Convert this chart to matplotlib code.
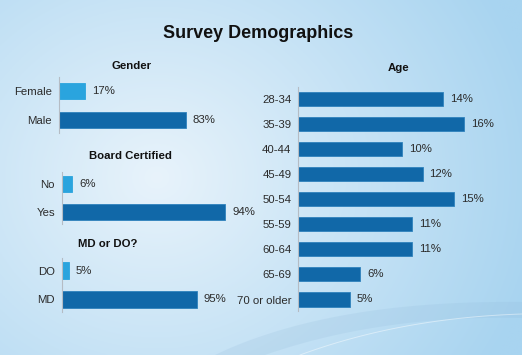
import numpy as np
import matplotlib
matplotlib.use("Agg")
import matplotlib.pyplot as plt
from matplotlib.colors import to_rgb

# data
gender_labels = ["Female", "Male"]
gender_values = [17, 83]
board_labels = ["No", "Yes"]
board_values = [6, 94]
degree_labels = ["DO", "MD"]
degree_values = [5, 95]
age_labels = ["28-34", "35-39", "40-44", "45-49", "50-54",
              "55-59", "60-64", "65-69", "70 or older"]
age_values = [14, 16, 10, 12, 15, 11, 11, 6, 5]

W, H = 522, 355
LIGHT = "#2aa4de"
DARK = "#1168a8"
TXT = "#2b2b2b"

plt.rcParams['font.family'] = ['Liberation Sans', 'DejaVu Sans']

fig = plt.figure(figsize=(W / 100, H / 100), dpi=100)

# background gradient + swoosh (pixel coords)
bg = fig.add_axes([0, 0, 1, 1])
yy, xx = np.mgrid[0:1:200j, 0:1:300j]
t = np.clip(np.hypot((xx - 0.3) / 0.75, (yy - 0.5) / 1.0), 0, 1)
c0 = np.array(to_rgb("#e8f3fb"))
c1 = np.array(to_rgb("#a8d4f0"))
img = c0 + (c1 - c0) * t[..., None]
bg.imshow(img, extent=[0, W, H, 0], aspect="auto", zorder=0)


def bez(p0, p1, p2, n=60):
    s = np.linspace(0, 1, n)[:, None]
    return (1 - s) ** 2 * np.array(p0) + 2 * (1 - s) * s * np.array(p1) + s ** 2 * np.array(p2)


up = bez((215, 355), (330, 300), (522, 302))
lo = bez((265, 355), (380, 315), (522, 318))
band = np.vstack([up, lo[::-1]])
bg.fill(band[:, 0], band[:, 1], color="#8fb8d8", alpha=0.18, lw=0, zorder=1)
wl = bez((300, 355), (400, 318), (522, 314))
bg.plot(wl[:, 0], wl[:, 1], color="white", alpha=0.45, lw=0.7, zorder=1)
bg.set_xlim(0, W)
bg.set_ylim(H, 0)
bg.axis("off")


def panel(labels, values, colors, left, top, bottom, c0, pitch, scale, xmax, bh):
    width = xmax * scale
    ax = fig.add_axes([left / W, 1 - bottom / H, width / W, (bottom - top) / H])
    ax.patch.set_alpha(0)
    y = np.arange(len(labels))
    bars = ax.barh(y, values, height=bh, color=colors,
                   edgecolor=[c if c == LIGHT else "#2f82bd" for c in colors], linewidth=0.6)
    ax.bar_label(bars, labels=[f"{v}%" for v in values], padding=5,
                 fontsize=8.2, color=TXT, clip_on=False)
    ax.set_ylim((bottom - c0) / pitch, (top - c0) / pitch)
    ax.set_xlim(0, xmax)
    ax.set_yticks(y, labels)
    ax.set_xticks([])
    ax.tick_params(axis="y", length=0, pad=5, labelsize=8.2, labelcolor=TXT)
    for s in ["top", "right", "bottom"]:
        ax.spines[s].set_visible(False)
    ax.spines["left"].set_color("#b5bcc4")
    ax.spines["left"].set_linewidth(0.8)
    return ax


panel(gender_labels, gender_values, [LIGHT, DARK], 59, 77, 133, 91, 29, 1.53, 100, 0.57)
panel(board_labels, board_values, [LIGHT, DARK], 62, 172, 224, 184, 28.2, 1.735, 100, 0.57)
panel(degree_labels, degree_values, [LIGHT, DARK], 62, 258, 312, 270.7, 28.6, 1.42, 100, 0.58)
panel(age_labels, age_values, [DARK] * len(age_values), 298.3, 87, 311, 98.7, 25.1, 10.36, 20, 0.56)

fig.text(258 / W, 1 - 33 / H, "Survey Demographics", ha="center", va="center",
         fontsize=13, fontweight="bold", color="#111111")
for txt, x, y in [("Gender", 132, 66), ("Board Certified", 130, 156),
                  ("MD or DO?", 108, 244), ("Age", 399, 68)]:
    fig.text(x / W, 1 - y / H, txt, ha="center", va="center",
             fontsize=8.2, fontweight="bold", color="#111111")

fig.savefig("out.png", dpi=100)
